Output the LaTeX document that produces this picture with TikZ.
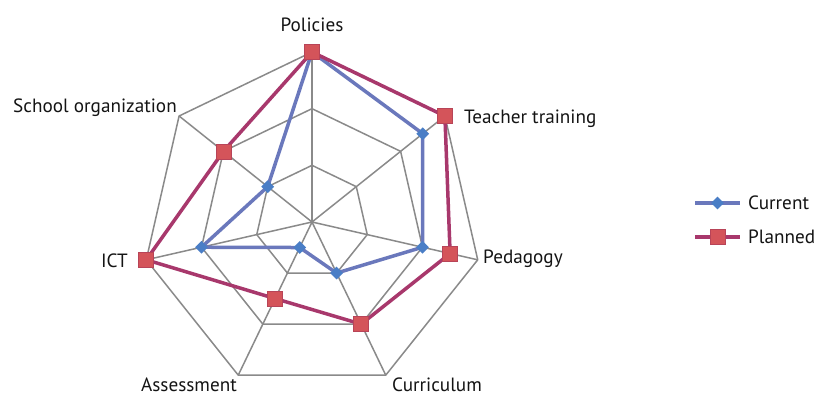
\documentclass[tikz,border=0pt]{standalone}
\usepackage{fontspec}
\setmainfont{PT Sans}
\usetikzlibrary{calc,shapes.geometric}
\definecolor{gridgray}{HTML}{8A8A8A}
\definecolor{curline}{HTML}{6A78BC}
\definecolor{curfill}{HTML}{4A7EC6}
\definecolor{plline}{HTML}{A8386C}
\definecolor{plfill}{HTML}{D4545A}
\definecolor{pldraw}{HTML}{B84458}
\tikzset{
  gridline/.style={draw=gridgray, line width=1.5pt},
  curpath/.style={draw=curline, line width=3.5pt, line join=round},
  plpath/.style={draw=plline, line width=3.5pt, line join=round},
  dmark/.style={diamond, fill=curfill, inner sep=0pt, minimum width=13pt, minimum height=13pt},
  smark/.style={rectangle, fill=plfill, draw=pldraw, line width=0.6pt, inner sep=0pt, minimum size=15pt},
  axlabel/.style={font=\fontsize{19.2}{22}\selectfont, text=black!92, inner sep=0pt},
}
\begin{document}
\begin{tikzpicture}[x=1pt,y=1pt]
\useasboundingbox (0,0) rectangle (817,-396);
\fill[white] (0,0) rectangle (817,-396);
\coordinate (c) at (312,-222);
\foreach \i in {0,...,6}{
  \foreach \k in {1,2,3}{
    \coordinate (g\i-\k) at ($(c)+({90-\i*360/7}:{\k*170/3})$);
  }
}
\foreach \k in {1,2,3}{
  \draw[gridline, line join=round] (g0-\k) -- (g1-\k) -- (g2-\k) -- (g3-\k) -- (g4-\k) -- (g5-\k) -- (g6-\k) -- cycle;
}
\foreach \i in {0,...,6}{
  \draw[gridline] (c) -- (g\i-3);
}
\foreach \i/\v in {0/3,1/2.5,2/2,3/1,4/0.5,5/2,6/1}{
  \coordinate (cu\i) at ($(c)+({90-\i*360/7}:{\v*170/3})$);
}
\foreach \i/\v in {0/3,1/3,2/2.5,3/2,4/1.5,5/3,6/2}{
  \coordinate (pl\i) at ($(c)+({90-\i*360/7}:{\v*170/3})$);
}
\draw[curpath] (cu0) -- (cu1) -- (cu2) -- (cu3) -- (cu4) -- (cu5) -- (cu6) -- cycle;
\foreach \i in {0,...,6}{ \node[dmark] (dm\i) at (cu\i) {}; }
\draw[plpath] (pl0) -- (pl1) -- (pl2) -- (pl3) -- (pl4) -- (pl5) -- (pl6) -- cycle;
\foreach \i in {0,...,6}{ \node[smark] (sm\i) at (pl\i) {}; }
\node[axlabel, anchor=base] (lpol) at (312,-32) {Policies};
\node[axlabel, anchor=base west] (ltt) at (464,-123) {Teacher training};
\node[axlabel, anchor=base west] (lped) at (483,-263) {Pedagogy};
\node[axlabel, anchor=base] (lcur) at (437,-391) {Curriculum};
\node[axlabel, anchor=base] (lass) at (189,-391) {Assessment};
\node[axlabel, anchor=base east] (lict) at (128,-267) {ICT};
\node[axlabel, anchor=base] (lso) at (95,-113) {School organization};
\coordinate (lc1) at (695,-203);
\coordinate (lc2) at (740,-203);
\coordinate (lp1) at (695,-237);
\coordinate (lp2) at (740,-237);
\draw[curpath] (lc1) -- (lc2);
\node[dmark] (ldm) at ($(lc1)!0.5!(lc2)$) {};
\draw[plpath] (lp1) -- (lp2);
\node[smark] (lsm) at ($(lp1)!0.5!(lp2)$) {};
\node[axlabel, anchor=base west] (lgc) at (748,-209) {Current};
\node[axlabel, anchor=base west] (lgp) at (748,-243) {Planned};
\end{tikzpicture}
\end{document}
